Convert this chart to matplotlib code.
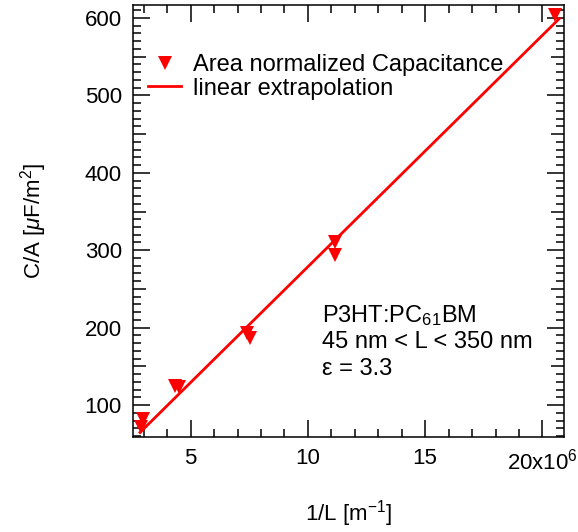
import numpy as np
import matplotlib
matplotlib.use('Agg')
import matplotlib.pyplot as plt
from matplotlib.ticker import MultipleLocator, FixedLocator

plt.rcParams['font.family'] = ['Liberation Sans', 'DejaVu Sans']
plt.rcParams['mathtext.fontset'] = 'custom'
plt.rcParams['mathtext.rm'] = 'Liberation Sans'
plt.rcParams['mathtext.it'] = 'Liberation Sans:italic'
plt.rcParams['mathtext.default'] = 'regular'

#%% data
inv_L = np.array([2.88, 2.97, 4.33, 4.50, 7.42, 7.55, 11.17, 11.17, 20.54])   # 1/L in 1e6 m^-1
cap_area = np.array([71.6, 81.9, 124.0, 123.0, 193.5, 187.0, 310.6, 293.8, 604.5])  # uF/m^2

# linear extrapolation line
fit_slope = 29.9
fit_intercept = -20.3
fit_range = np.array([2.84, 20.72])

x_ticks = [5, 10, 15, 20]
x_ticklabels = ['5', '10', '15', '20x10$^{6}$']
y_ticks = [100, 200, 300, 400, 500, 600]

red = '#ff0000'

#%% plot
fig = plt.figure(figsize=(5.78, 5.32), dpi=100)
ax = fig.add_axes([133/578, 95/532, 431/578, 432/532])

ax.plot(inv_L, cap_area, 'v', color=red, ms=10.5, mew=0,
        label='Area normalized Capacitance', zorder=3)
ax.plot(fit_range, fit_slope*fit_range + fit_intercept, '-', color=red, lw=2.0,
        label='linear extrapolation', zorder=2)

ax.set_xlim(2.54, 20.92)
ax.set_ylim(58.7, 616.8)

ax.xaxis.set_major_locator(FixedLocator(x_ticks))
ax.set_xticklabels(x_ticklabels)
ax.xaxis.set_minor_locator(MultipleLocator(1))
ax.yaxis.set_major_locator(FixedLocator(y_ticks))
ax.yaxis.set_minor_locator(MultipleLocator(10))

ax.tick_params(which='both', direction='in', top=True, right=True, width=1.1, color='k')
ax.tick_params(which='major', length=12, pad=8, labelsize=16)
ax.tick_params(which='minor', length=6)
for sp in ax.spines.values():
    sp.set_linewidth(1.1)

# medium ticks at the 50s (Igor style)
fig.canvas.draw()
for loc, tick in zip(ax.yaxis.get_minorticklocs(), ax.yaxis.get_minor_ticks()):
    if abs(loc % 100 - 50) < 1e-6:
        tick.tick1line.set_markersize(9.5)
        tick.tick2line.set_markersize(9.5)

ax.set_xlabel('1/L [m$^{-1}$]', fontsize=16, labelpad=17)
ax.set_ylabel('C/A [$\\mathit{\\mu}$F/m$^{2}$]', fontsize=16, labelpad=26)

ax.legend(loc='upper left', bbox_to_anchor=(0.035, 0.887), frameon=False, fontsize=17,
          handlelength=1.4, handletextpad=0.5, labelspacing=0.08,
          borderpad=0, borderaxespad=0, numpoints=1)

ax.text(0.4385, 0.2669, 'P3HT:PC$_{61}$BM', transform=ax.transAxes, fontsize=17, va='baseline')
ax.text(0.4385, 0.2053, '45 nm < L < 350 nm', transform=ax.transAxes, fontsize=17, va='baseline')
ax.text(0.4385, 0.1435, 'ε = 3.3', transform=ax.transAxes, fontsize=17, va='baseline')

fig.savefig('out.png', dpi=100)
